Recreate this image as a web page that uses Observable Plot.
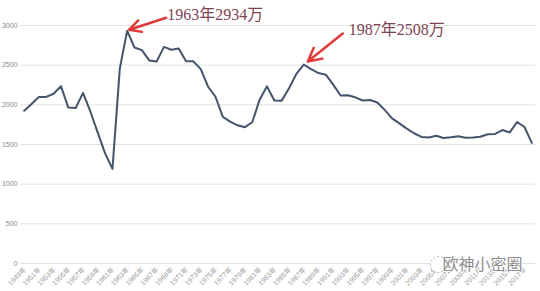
<!DOCTYPE html>
<html><head><meta charset="utf-8">
<script src="https://cdn.jsdelivr.net/npm/d3@7"></script>
<script src="https://cdn.jsdelivr.net/npm/@observablehq/plot@0.6"></script>
<style>body{margin:0;background:#fff}#chart svg{display:block}</style>
</head><body><div id="chart"></div>
<script>
const years = [1949,1950,1951,1952,1953,1954,1955,1956,1957,1958,1959,1960,1961,1962,1963,1964,1965,1966,1967,1968,1969,1970,1971,1972,1973,1974,1975,1976,1977,1978,1979,1980,1981,1982,1983,1984,1985,1986,1987,1988,1989,1990,1991,1992,1993,1994,1995,1996,1997,1998,1999,2000,2001,2002,2003,2004,2005,2006,2007,2008,2009,2010,2011,2012,2013,2014,2015,2016,2017,2018];
const births = [1925,2010,2100,2100,2140,2235,1965,1960,2150,1913,1650,1389,1192,2460,2934,2722,2690,2560,2545,2730,2695,2710,2550,2548,2450,2228,2102,1848,1788,1742,1718,1780,2065,2233,2055,2053,2208,2391,2508,2450,2400,2380,2255,2118,2120,2095,2055,2060,2030,1936,1830,1766,1700,1642,1596,1588,1610,1583,1590,1604,1586,1588,1598,1630,1633,1682,1652,1784,1721,1520];
const yTicks = [0,500,1000,1500,2000,2500,3000];
const xTickYears = [1949,1951,1953,1955,1957,1959,1961,1963,1965,1967,1969,1971,1973,1975,1977,1979,1981,1983,1985,1987,1989,1991,1993,1995,1997,1999,2001,2003,2005,2007,2009,2011,2013,2015,2017];
const noteYears = [1963, 1987];
const noteValues = [2934, 2508];
const noteLabels = ["1963年2934万", "1987年2508万"];
const watermark = "欧神小密圈";

const data = years.map((y, i) => ({year: y, value: births[i]}));
const notes = noteYears.map((y, i) => ({year: y, value: noteValues[i], label: noteLabels[i], k: i}));
// pixel offsets of annotation parts relative to peak point
const pxPerYear = 515 / 70, pxPerVal = 238 / 3000;
const tailOff = [[39, -13], [39, -31]];
const tipOff = [[2, -1], [4, -3]];
const textOff = [[40, -16], [45, -35]];

const chart = Plot.plot({
  width: 540,
  height: 291,
  marginLeft: 20,
  marginRight: 5,
  marginTop: 25,
  marginBottom: 28,
  style: {fontFamily: "'Liberation Sans','Noto Sans CJK SC',sans-serif", background: "#fff"},
  x: {type: "linear", domain: [1948.5, 2018.5], axis: null},
  y: {domain: [0, 3000], axis: null},
  marks: [
    Plot.ruleY(yTicks, {stroke: "#e2e2e2", strokeWidth: 1}),
    Plot.text(yTicks, {y: d => d, frameAnchor: "left", dx: -3, text: d => String(d), textAnchor: "end", lineAnchor: "middle", fontSize: 7, fill: "#8a8a8a"}),
    Plot.text(xTickYears, {x: d => d, frameAnchor: "bottom", dx: 1, dy: 5, text: d => d + "年", rotate: -45, textAnchor: "end", lineAnchor: "middle", fontSize: 7, fill: "#9a9a9a"}),
    Plot.line(data, {x: "year", y: "value", stroke: "#44546a", strokeWidth: 2}),
    Plot.arrow(notes, {
      x1: d => d.year + tailOff[d.k][0] / pxPerYear,
      y1: d => d.value - tailOff[d.k][1] / pxPerVal,
      x2: d => d.year + tipOff[d.k][0] / pxPerYear,
      y2: d => d.value - tipOff[d.k][1] / pxPerVal,
      stroke: "#e03a3a", strokeWidth: 2.5, headLength: 12, headAngle: 55
    }),
    Plot.text(notes, {
      x: d => d.year + textOff[d.k][0] / pxPerYear,
      y: d => d.value - textOff[d.k][1] / pxPerVal,
      text: "label", textAnchor: "start", lineAnchor: "middle",
      fontSize: 16, fill: "#7d4452",
      fontFamily: "'Liberation Serif','Noto Sans CJK SC',serif"
    }),
    Plot.dot([watermark], {frameAnchor: "bottom-right", dx: -97, dy: 1, r: 8, stroke: "#aaa", strokeWidth: 1, strokeDasharray: "2,2", fill: "white"}),
    Plot.text([watermark], {frameAnchor: "bottom-right", dx: -13, dy: 1, text: d => d, textAnchor: "end", lineAnchor: "middle", fontSize: 16, fill: "#8c8c8c", stroke: "white", strokeWidth: 2, paintOrder: "stroke"})
  ]
});
document.getElementById("chart").append(chart);
</script>
</body></html>
